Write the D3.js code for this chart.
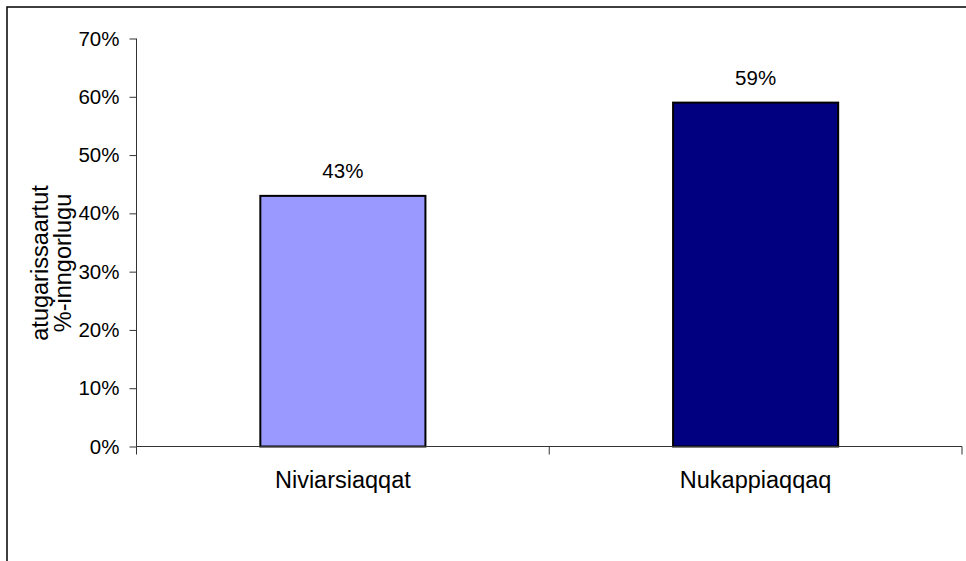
<!DOCTYPE html>
<html>
<head>
<meta charset="utf-8">
<script src="https://cdn.jsdelivr.net/npm/d3@7"></script>
<style>
	body { margin: 0; background: #fff; }
	svg { display: block; font-family: Arial, "Liberation Sans", sans-serif; }
</style>
</head>
<body>
<script>
var WIDTH = 966, HEIGHT = 561;

var categories = ["Niviarsiaqqat", "Nukappiaqqaq"];
var values = [0.43, 0.59];
var yTicks = [0, 0.1, 0.2, 0.3, 0.4, 0.5, 0.6, 0.7];
var titleLines = ["atugarissaartut", "%-inngorlugu"];
var colors = ["#9999ff", "#000080"];

var plot = { left: 136.5, right: 962, top: 38.5, bottom: 446.5 };

var svg = d3.select("body").append("svg")
	.attr("width", WIDTH)
	.attr("height", HEIGHT);

// outer frame, runs past right/bottom edge like the original
svg.append("rect")
	.attr("x", 7).attr("y", 7)
	.attr("width", WIDTH + 20).attr("height", HEIGHT + 20)
	.attr("fill", "none")
	.attr("stroke", "#000")
	.attr("stroke-width", 1.5);

var x = d3.scaleBand()
	.domain(categories)
	.range([plot.left, plot.right])
	.padding(0);

var y = d3.scaleLinear()
	.domain([0, 0.7])
	.range([plot.bottom, plot.top]);

var barW = x.bandwidth() * 0.4;

// bars
svg.append("g").selectAll("rect")
	.data(values)
	.enter()
	.append("rect")
	.attr("x", (d, i) => x(categories[i]) + x.bandwidth() / 2 - barW / 2)
	.attr("y", d => y(d))
	.attr("width", barW)
	.attr("height", d => y(0) - y(d))
	.attr("fill", (d, i) => colors[i])
	.attr("stroke", "#000")
	.attr("stroke-width", 2);

// value labels
svg.append("g").selectAll("text")
	.data(values)
	.enter()
	.append("text")
	.attr("x", (d, i) => x(categories[i]) + x.bandwidth() / 2)
	.attr("y", d => y(d) - 17.5)
	.attr("text-anchor", "middle")
	.style("font-size", "20.5px")
	.attr("fill", "#000")
	.text(d => Math.round(d * 100) + "%");

// y axis
var yAxis = svg.append("g")
	.attr("transform", `translate(${plot.left},0)`)
	.call(d3.axisLeft(y)
		.tickValues(yTicks)
		.tickSize(7)
		.tickPadding(10)
		.tickFormat(d => Math.round(d * 100) + "%"));
yAxis.select(".domain").attr("stroke", "#333").attr("d", `M0,${plot.top}V${plot.bottom}`);
yAxis.selectAll(".tick line").attr("stroke", "#333");
yAxis.selectAll(".tick text")
	.style("font-size", "20.5px")
	.style("font-family", "Arial, 'Liberation Sans', sans-serif")
	.attr("fill", "#000");

// x axis (ticks at band boundaries)
var xAxisG = svg.append("g").attr("class", "xaxis");
xAxisG.append("line")
	.attr("x1", plot.left).attr("x2", plot.right)
	.attr("y1", plot.bottom).attr("y2", plot.bottom)
	.attr("stroke", "#333");
var bounds = categories.map(c => x(c)).concat([x(categories[categories.length - 1]) + x.bandwidth()]);
xAxisG.selectAll("line.tk")
	.data(bounds)
	.enter()
	.append("line")
	.attr("class", "tk")
	.attr("x1", d => d).attr("x2", d => d)
	.attr("y1", plot.bottom).attr("y2", plot.bottom + 8)
	.attr("stroke", "#333");
xAxisG.selectAll("text")
	.data(categories)
	.enter()
	.append("text")
	.attr("x", d => x(d) + x.bandwidth() / 2)
	.attr("y", 488)
	.attr("text-anchor", "middle")
	.style("font-size", "23.5px")
	.attr("fill", "#000")
	.text(d => d);

// y axis title, two lines rotated
var title = svg.append("text")
	.attr("transform", "translate(48,263) rotate(-90)")
	.attr("text-anchor", "middle")
	.style("font-size", "23.5px")
	.attr("fill", "#000");
title.selectAll("tspan")
	.data(titleLines)
	.enter()
	.append("tspan")
	.attr("x", 0)
	.attr("dy", (d, i) => i === 0 ? 0 : 23)
	.text(d => d);
</script>
</body>
</html>
